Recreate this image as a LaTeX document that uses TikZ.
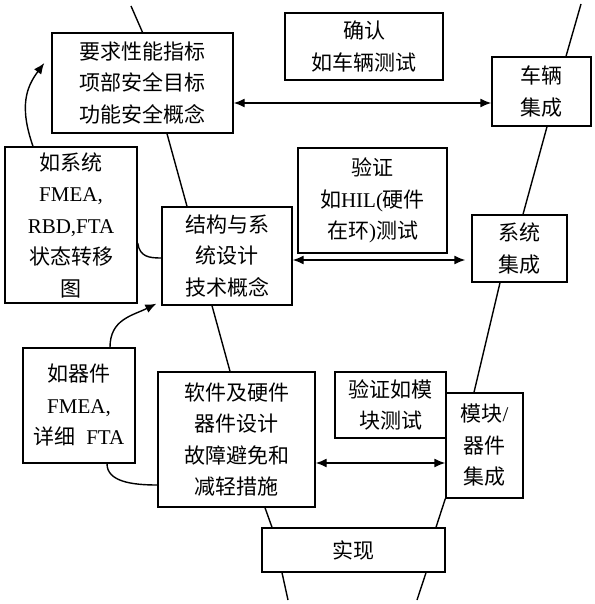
\documentclass[tikz,border=0pt]{standalone}
\usepackage{fontspec}
\setmainfont{Liberation Serif}
\newfontfamily\cjk{Noto Sans CJK SC}
\usepackage{tikz}
\usetikzlibrary{arrows.meta}

\tikzset{
  vbox/.style={draw, line width=1.4pt, align=center, inner sep=0pt,
    font=\cjk\fontsize{21}{31.5}\selectfont},
  vline/.style={line width=1.4pt},
  vtip/.style={line width=1.4pt, -{Latex[length=11pt,width=9pt]}},
  vboth/.style={line width=1.4pt, {Latex[length=11pt,width=9pt]}-{Latex[length=11pt,width=9pt]}}
}

\begin{document}
\begin{tikzpicture}[x=1pt,y=1pt,yscale=-1,xscale=1]
\useasboundingbox (0,0) rectangle (594,604);
%Shape: Rectangle
\node[vbox, minimum width=181pt, minimum height=100pt] (req) at (142.5,83) {要求性能指标\\项部安全目标\\功能安全概念};
\node[vbox, minimum width=158pt, minimum height=67pt] (confirm) at (364,46.5) {确认\\如车辆测试};
\node[vbox, minimum width=99pt, minimum height=69pt] (veh) at (541.5,91.5) {车辆\\集成};
\node[vbox, minimum width=132pt, minimum height=156pt] (sysana) at (71,225) {如系统\\{\rmfamily FMEA,}\\{\rmfamily RBD,FTA}\\状态转移\\图};
\node[vbox, minimum width=130pt, minimum height=98pt] (arch) at (227,256) {结构与系\\统设计\\技术概念};
\node[vbox, minimum width=149pt, minimum height=105pt] (hil) at (372.5,200.5) {验证\\如{\rmfamily HIL(}硬件\\在环{\rmfamily )}测试};
\node[vbox, minimum width=95pt, minimum height=67pt] (sysint) at (519.5,248.5) {系统\\集成};
\node[vbox, minimum width=112pt, minimum height=115pt] (compana) at (79,405.5) {如器件\\{\rmfamily FMEA,}\\详细{\rmfamily\ \ FTA}};
\node[vbox, minimum width=157pt, minimum height=135pt] (swhw) at (236.5,439.5) {软件及硬件\\器件设计\\故障避免和\\减轻措施};
\node[vbox, minimum width=111pt, minimum height=66pt] (modtest) at (390.5,405) {验证如模\\块测试};
\node[vbox, minimum width=77pt, minimum height=105pt] (modint) at (484.5,445.5) {模块{\rmfamily /}\\器件\\集成};
\node[vbox, minimum width=183pt, minimum height=44pt] (impl) at (353.5,550) {实现};

%Straight Lines (left leg)
\coordinate (topL) at (131,6);
\coordinate (botL) at (288,600);
\draw[vline] (topL) -- (req.north);
\draw[vline] ([xshift=24.5pt]req.south) -- ([xshift=-40pt]arch.north);
\draw[vline] ([xshift=-15pt]arch.south) -- ([xshift=-6.5pt]swhw.north);
\draw[vline] ([xshift=28.5pt]swhw.south) -- ([xshift=-81.5pt]impl.north);
\draw[vline] ([xshift=-71.5pt]impl.south) -- (botL);
%Straight Lines (right leg)
\coordinate (topR) at (581,4);
\coordinate (botR) at (417,600);
\draw[vline] (topR) -- ([xshift=24.5pt]veh.north);
\draw[vline] ([xshift=5.5pt]veh.south) -- ([xshift=3.5pt]sysint.north);
\draw[vline] ([xshift=-19.5pt]sysint.south) -- ([xshift=-10.5pt]modint.north);
\draw[vline] (modint.south west) -- ([xshift=82.5pt]impl.north);
\draw[vline] ([xshift=72.5pt]impl.south) -- (botR);

%Double arrows
\draw[vboth] ([yshift=20pt]req.east) -- ([yshift=20pt]req.east -| veh.west);
\coordinate (hilR) at ([yshift=4pt]arch.east -| sysint.west);
\draw[vboth] ([yshift=4pt]arch.east) -- ([xshift=-6pt]hilR);
\draw[vboth] ([yshift=23.5pt]swhw.east) -- ([yshift=23.5pt]swhw.east -| modint.west);

%Curves
\draw[vtip] ([xshift=-38pt]sysana.north) .. controls +(-14,-40) and +(-18,24) .. ([shift={(-7pt,-20pt)}]req.west);
\draw[vline] ([yshift=18pt]sysana.east) .. controls +(2,14) and +(-12,0) .. ([yshift=2pt]arch.west);
\draw[vtip] ([xshift=31pt]compana.north) .. controls +(0,-28) and +(-24,12) .. ([shift={(-5pt,-2pt)}]arch.south west);
\draw[vline] ([xshift=28pt]compana.south) .. controls +(0,18) and +(-25,0) .. ([yshift=45.5pt]swhw.west);
\end{tikzpicture}
\end{document}
